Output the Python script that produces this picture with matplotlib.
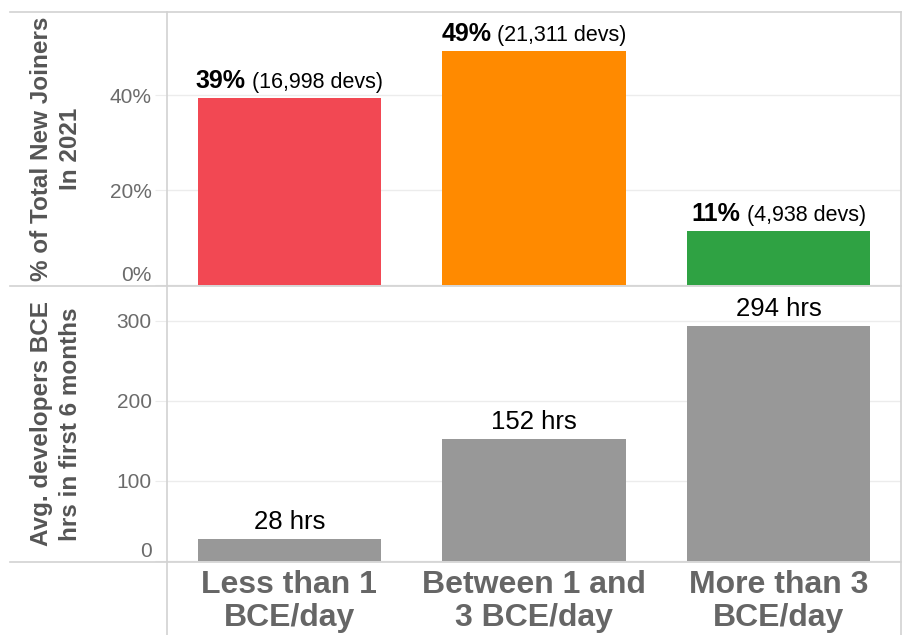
import matplotlib
matplotlib.use("Agg")
import matplotlib.pyplot as plt
from matplotlib.lines import Line2D

plt.rcParams['font.family'] = ['Liberation Sans', 'DejaVu Sans']

categories = ["Less than 1\nBCE/day", "Between 1 and\n3 BCE/day", "More than 3\nBCE/day"]
pct_values = [39.3, 49.3, 11.4]
pct_labels = ["39%", "49%", "11%"]
dev_labels = [" (16,998 devs)", " (21,311 devs)", " (4,938 devs)"]
hrs_values = [28, 152, 294]
hrs_labels = ["28 hrs", "152 hrs", "294 hrs"]
bar_colors = ["#F24853", "#FF8A00", "#2FA243"]
gray_bar = "#989898"

W, H = 904, 635
fig = plt.figure(figsize=(W / 100, H / 100), dpi=100)

def fx(px):
    return px / W

def fy(py):
    return 1 - py / H

left, right = 167, 901
top1, mid, bot = 12, 286, 562
ax1 = fig.add_axes([fx(left), fy(mid), fx(right - left), (mid - top1) / H])
ax2 = fig.add_axes([fx(left), fy(bot), fx(right - left), (bot - mid) / H])

x = list(range(len(categories)))
ax1.bar(x, pct_values, width=0.75, color=bar_colors, zorder=2)
ax2.bar(x, hrs_values, width=0.75, color=gray_bar, zorder=2)

ax1.set_xlim(-0.5, 2.5)
ax2.set_xlim(-0.5, 2.5)
ax1.set_ylim(-0.2, 57.5)
ax2.set_ylim(-1.25, 343.75)

tick_color = "#6b6b6b"
for ax in (ax1, ax2):
    for s in ax.spines.values():
        s.set_visible(False)
    ax.grid(axis='y', color="#ececec", linewidth=1, zorder=0)
    ax.tick_params(axis='y', length=9, color="#ececec", labelsize=15,
                   labelcolor=tick_color, pad=2)
    ax.set_facecolor('none')

ax1.set_yticks([0, 20, 40])
ax1.set_yticklabels(["0%", "20%", "40%"])
ax2.set_yticks([0, 100, 200, 300])
ax2.set_yticklabels(["0", "100", "200", "300"])
ax1.get_yticklabels()[0].set_verticalalignment('bottom')
ax2.get_yticklabels()[0].set_verticalalignment('bottom')

ax1.set_xticks([])
ax2.set_xticks(x)
ax2.set_xticklabels(categories, fontsize=23, fontweight='bold', color="#666666",
                    linespacing=1.1)
ax2.tick_params(axis='x', length=0, pad=6)

for xi, v, lab in zip(x, hrs_values, hrs_labels):
    ax2.annotate(lab, (xi, v), xytext=(0, 10), textcoords='offset pixels',
                 ha='center', va='baseline', fontsize=18.5, color='black')

fig.canvas.draw()
renderer = fig.canvas.get_renderer()
for xi, v, b, n in zip(x, pct_values, pct_labels, dev_labels):
    t1 = ax1.annotate(b, (xi, v), xytext=(0, 10), textcoords='offset pixels',
                      ha='left', va='baseline', fontsize=18, fontweight='bold', color='black')
    t2 = ax1.annotate(n, (xi, v), xytext=(0, 10), textcoords='offset pixels',
                      ha='left', va='baseline', fontsize=15.5, color='black')
    w1 = t1.get_window_extent(renderer).width
    w2 = t2.get_window_extent(renderer).width
    tot = w1 + w2
    t1.set_position((-tot / 2, 10))
    t2.set_position((-tot / 2 + w1, 10))

fig.text(fx(56), fy((top1 + mid) / 2), "% of Total New Joiners\nIn 2021", rotation=90,
         ha='center', va='center', multialignment='center', fontsize=17.5,
         fontweight='bold', color="#555555", linespacing=1.35)
fig.text(fx(56), fy((mid + bot) / 2), "Avg. developers BCE\nhrs in first 6 months", rotation=90,
         ha='center', va='center', multialignment='center', fontsize=17.5,
         fontweight='bold', color="#555555", linespacing=1.35)

lc = "#d2d2d2"
for yy in (top1, mid, bot):
    fig.add_artist(Line2D([fx(10), fx(right)], [fy(yy), fy(yy)], color=lc, linewidth=1.2))
for xx in (left, right):
    fig.add_artist(Line2D([fx(xx), fx(xx)], [fy(top1), fy(H)], color=lc, linewidth=1.2))

fig.savefig("out.png", dpi=100)
